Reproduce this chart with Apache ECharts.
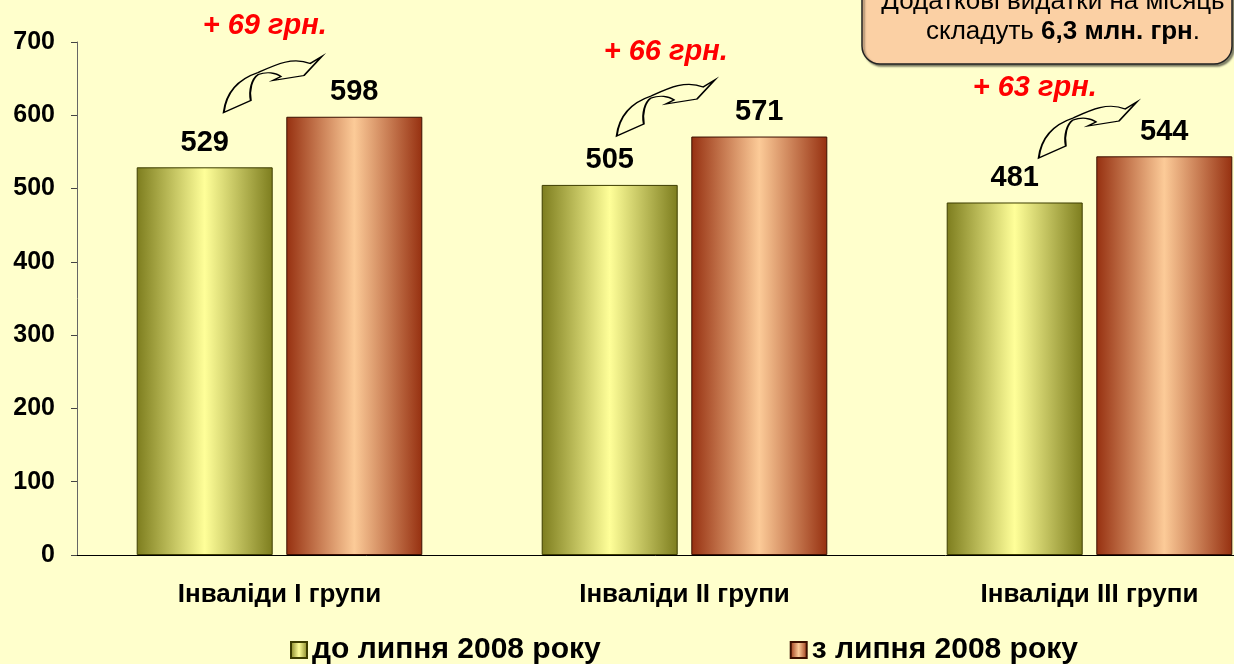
<!DOCTYPE html>
<html>
<head>
<meta charset="utf-8">
<script src="https://cdn.jsdelivr.net/npm/echarts@6/dist/echarts.min.js"></script>
<style>
html,body{margin:0;padding:0;background:#FFFFCC;}
#chart{width:1234px;height:664px;}
</style>
</head>
<body>
<div id="chart"></div>
<script>
const categories = ['Інваліди I групи', 'Інваліди II групи', 'Інваліди III групи'];
const seriesNames = ['до липня 2008 року', 'з липня 2008 року'];
const beforeValues = [529, 505, 481];
const afterValues = [598, 571, 544];
const increaseLabels = ['+ 69 грн.', '+ 66 грн.', '+ 63 грн.'];
const yTicks = { min: 0, max: 700, interval: 100 };
const noteLine1 = 'Додаткові видатки на місяць';
const noteLine2 = ['складуть ', '6,3 млн. грн', '.'];

const FONT = '"Liberation Sans", Arial, sans-serif';
const arrowPath = 'path://M12,62 C14,45 22,30 45,22 C62,14 78,6 95,13 L106,6 L89,25 L59,30 L67,26 C62,22 53,21 45,24 C39,28 36,40 38,50 Z';

const greenGrad = new echarts.graphic.LinearGradient(0, 0, 1, 0, [
  { offset: 0, color: '#7d7d1e' },
  { offset: 0.5, color: '#ffff99' },
  { offset: 1, color: '#7d7d1e' }
]);
const redGrad = new echarts.graphic.LinearGradient(0, 0, 1, 0, [
  { offset: 0, color: '#963010' },
  { offset: 0.5, color: '#fccb98' },
  { offset: 1, color: '#963010' }
]);

const arrowLayout = [
  { level: 642, dx: 68, tx: -8, ty: -59 },
  { level: 610, dx: 56, tx: 0, ty: -56 },
  { level: 580, dx: 73, tx: -53, ty: -42 }
];

const chart = echarts.init(document.getElementById('chart'), null, { renderer: 'canvas' });
chart.setOption({
  backgroundColor: '#FFFFCC',
  animation: false,
  textStyle: { fontFamily: FONT },
  grid: { left: 77, top: 42, height: 513, width: 1215, containLabel: false, outerBoundsMode: 'none' },
  legend: {
    left: 285,
    top: 630,
    itemWidth: 16,
    itemHeight: 16,
    itemGap: 189,
    icon: 'rect',
    textStyle: { fontFamily: FONT, fontWeight: 'bold', fontSize: 30, color: '#000' },
    data: seriesNames
  },
  xAxis: {
    type: 'category',
    data: categories,
    axisLine: { lineStyle: { color: '#000', width: 1 } },
    axisTick: { length: 8, lineStyle: { color: '#555' } },
    axisLabel: { fontFamily: FONT, fontWeight: 'bold', fontSize: 26, color: '#000', margin: 27 }
  },
  yAxis: {
    type: 'value',
    min: yTicks.min, max: yTicks.max, interval: yTicks.interval,
    splitLine: { show: false },
    axisLine: { show: true, lineStyle: { color: '#666', width: 1 } },
    axisTick: { show: true, length: 6, lineStyle: { color: '#444' } },
    axisLabel: { fontFamily: FONT, fontWeight: 'bold', fontSize: 25, color: '#000', margin: 22 }
  },
  series: [
    {
      name: seriesNames[0],
      type: 'bar',
      data: beforeValues,
      barWidth: 136,
      barGap: '10%',
      itemStyle: { color: greenGrad, borderColor: '#3d3d00', borderWidth: 1 },
      label: { show: true, position: 'top', distance: 10, fontFamily: FONT, fontWeight: 'bold', fontSize: 29, color: '#000' },
      markPoint: {
        symbol: arrowPath,
        symbolSize: [98, 56],
        symbolKeepAspect: false,
        itemStyle: { color: 'rgba(0,0,0,0)', borderColor: '#000', borderWidth: 1.5 },
        label: { show: true, color: '#ff0000', fontFamily: FONT, fontWeight: 'bold', fontStyle: 'italic', fontSize: 29, position: 'inside' },
        silent: true,
        data: arrowLayout.map((a, i) => ({
          name: increaseLabels[i],
          coord: [i, a.level],
          symbolOffset: [a.dx, 0],
          label: { formatter: increaseLabels[i], offset: [a.tx, a.ty] }
        }))
      }
    },
    {
      name: seriesNames[1],
      type: 'bar',
      data: afterValues,
      barWidth: 136,
      itemStyle: { color: redGrad, borderColor: '#3d1000', borderWidth: 1 },
      label: { show: true, position: 'top', distance: 10, fontFamily: FONT, fontWeight: 'bold', fontSize: 29, color: '#000' }
    }
  ],
  graphic: [
    {
      type: 'rect',
      shape: { x: 862, y: -30, width: 370, height: 94, r: 18 },
      style: { fill: '#fbd0a4', stroke: '#222', lineWidth: 1.5, shadowColor: 'rgba(0,0,0,0.45)', shadowOffsetX: 2, shadowOffsetY: 2, shadowBlur: 2 },
      z: 10
    },
    {
      type: 'text',
      x: 1053, y: 2,
      style: { text: noteLine1, fontFamily: FONT, fontSize: 26, fill: '#000', align: 'center', verticalAlign: 'middle' },
      z: 11
    },
    {
      type: 'text',
      x: 1063, y: 32,
      style: {
        text: '{r|' + noteLine2[0] + '}{b|' + noteLine2[1] + '}{r|' + noteLine2[2] + '}',
        align: 'center', verticalAlign: 'middle',
        rich: {
          r: { fontFamily: FONT, fontSize: 26, fill: '#000', color: '#000' },
          b: { fontFamily: FONT, fontSize: 26, fontWeight: 'bold', fill: '#000', color: '#000' }
        }
      },
      z: 11
    }
  ]
});
</script>
</body>
</html>
